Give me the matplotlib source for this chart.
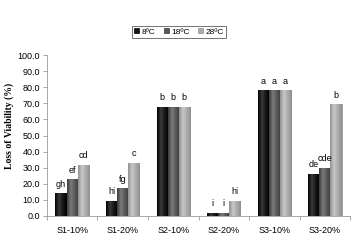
import numpy as np
import matplotlib
matplotlib.use("Agg")
import matplotlib.pyplot as plt
from matplotlib.colors import LinearSegmentedColormap

categorias = ["S1-10%", "S1-20%", "S2-10%", "S2-20%", "S3-10%", "S3-20%"]
series = ["8ºC", "18ºC", "28ºC"]
v_8 = [14.0, 9.4, 67.7, 2.0, 78.0, 26.0]
v_18 = [22.7, 17.1, 67.7, 2.0, 78.0, 29.8]
v_28 = [31.7, 33.1, 67.7, 9.2, 78.0, 69.4]
letras_8 = ["gh", "hi", "b", "i", "a", "de"]
letras_18 = ["ef", "fg", "b", "i", "a", "cde"]
letras_28 = ["cd", "c", "b", "hi", "a", "b"]

cores = ["#151515", "#585858", "#ababab"]
claros = ["#3a3a3a", "#7a7a7a", "#c8c8c8"]
escuros = ["#000000", "#3c3c3c", "#909090"]

fig = plt.figure(figsize=(3.58, 2.46), dpi=100)
ax = fig.add_axes([0.131, 0.122, 0.847, 0.654])

x = np.arange(len(categorias))
w = 0.22
valores = [v_8, v_18, v_28]
letras = [letras_8, letras_18, letras_28]
grad = np.linspace(0, 1, 64).reshape(1, -1)
for i in range(3):
    pos = x + (i - 1) * w
    bars = ax.bar(pos, valores[i], width=w, color=cores[i], edgecolor=escuros[i],
                  linewidth=0.5, label=series[i], zorder=2)
    # sombreado tipo cilindro
    cmap = LinearSegmentedColormap.from_list(
        "c%d" % i, [escuros[i], claros[i], cores[i], escuros[i]])
    for b in bars:
        bx, by = b.get_x(), b.get_y()
        im = ax.imshow(grad, cmap=cmap, aspect="auto", zorder=2.5,
                       extent=[bx, bx + b.get_width(), by, by + b.get_height()])
        im.set_clip_path(b)
    for p, v, l in zip(pos, valores[i], letras[i]):
        ax.text(p, v + 3.0, l, ha="center", va="bottom", fontsize=6.5,
                family="Liberation Sans")

ax.set_xlim(-0.5, 5.5)
ax.set_ylim(0, 100)
ax.set_yticks(np.arange(0, 101, 10))
ax.set_yticklabels([f"{t:.1f}" for t in np.arange(0, 101, 10)],
                   fontsize=6.5, family="Liberation Sans")
ax.set_xticks(x)
ax.set_xticklabels(categorias, fontsize=6.5, family="Liberation Sans")
ax.set_xticks(np.arange(-0.5, 5.6, 1), minor=True)
ax.tick_params(axis="x", which="major", length=0, pad=7)
ax.tick_params(axis="x", which="minor", length=3, color="#999999", width=0.6)
ax.tick_params(axis="y", length=3, color="#999999", width=0.6, pad=2)

for s in ["top", "right"]:
    ax.spines[s].set_visible(False)
for s in ["left", "bottom"]:
    ax.spines[s].set_color("#999999")
    ax.spines[s].set_linewidth(0.6)

ax.set_ylabel("Loss of Viability (%)", fontsize=7, fontweight="bold",
              family="Liberation Serif")
ax.yaxis.set_label_coords(-0.11, 0.56)

leg = fig.legend(loc="center", bbox_to_anchor=(0.5, 0.870), ncol=3,
                 prop={"family": "Liberation Sans", "size": 6},
                 handlelength=0.6, handleheight=0.6, handletextpad=0.3,
                 columnspacing=1.0, borderpad=0.3, frameon=True, fancybox=False)
leg.get_frame().set_edgecolor("#333333")
leg.get_frame().set_linewidth(0.6)

fig.savefig("out.png", dpi=100)
